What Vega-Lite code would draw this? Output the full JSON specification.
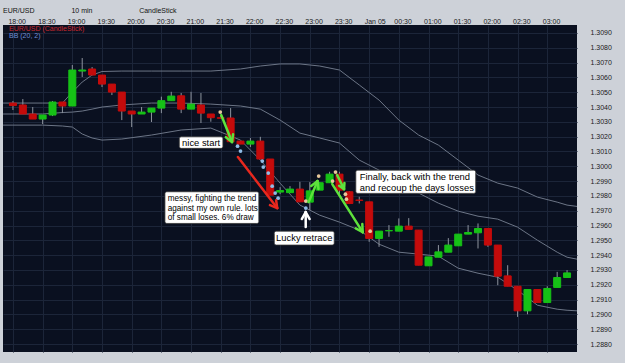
{
  "$schema": "https://vega.github.io/schema/vega-lite/v6.json",
  "width": 574,
  "height": 327,
  "autosize": {"type": "none"},
  "padding": {"left": 3, "top": 25, "right": 48, "bottom": 11},
  "background": "#cdd1d8",
  "title": {
    "text": "EUR/USD\u00a0\u00a0\u00a0\u00a0\u00a0\u00a0\u00a0\u00a0\u00a0\u00a0\u00a0\u00a0\u00a0\u00a0\u00a0\u00a0\u00a0\u00a0\u00a010 min\u00a0\u00a0\u00a0\u00a0\u00a0\u00a0\u00a0\u00a0\u00a0\u00a0\u00a0\u00a0\u00a0\u00a0\u00a0\u00a0\u00a0\u00a0\u00a0\u00a0\u00a0\u00a0\u00a0\u00a0CandleStick",
    "anchor": "start",
    "frame": "group",
    "fontSize": 7,
    "font": "Liberation Sans",
    "fontWeight": "normal",
    "color": "#111111",
    "offset": 3
  },
  "datasets": {
    "candles": [
      {"t": "2012-01-04T18:00:00Z", "o": 1.30427, "h": 1.30441, "l": 1.30380, "c": 1.30410},
      {"t": "2012-01-04T18:10:00Z", "o": 1.30414, "h": 1.30454, "l": 1.30353, "c": 1.30353},
      {"t": "2012-01-04T18:20:00Z", "o": 1.30353, "h": 1.30400, "l": 1.30319, "c": 1.30319},
      {"t": "2012-01-04T18:30:00Z", "o": 1.30319, "h": 1.30346, "l": 1.30285, "c": 1.30346},
      {"t": "2012-01-04T18:40:00Z", "o": 1.30346, "h": 1.30441, "l": 1.30339, "c": 1.30434},
      {"t": "2012-01-04T18:50:00Z", "o": 1.30434, "h": 1.30434, "l": 1.30359, "c": 1.30407},
      {"t": "2012-01-04T19:00:00Z", "o": 1.30407, "h": 1.30684, "l": 1.30407, "c": 1.30650},
      {"t": "2012-01-04T19:10:00Z", "o": 1.30643, "h": 1.30731, "l": 1.30603, "c": 1.30650},
      {"t": "2012-01-04T19:20:00Z", "o": 1.30657, "h": 1.30670, "l": 1.30616, "c": 1.30616},
      {"t": "2012-01-04T19:30:00Z", "o": 1.30616, "h": 1.30616, "l": 1.30535, "c": 1.30555},
      {"t": "2012-01-04T19:40:00Z", "o": 1.30555, "h": 1.30555, "l": 1.30481, "c": 1.30501},
      {"t": "2012-01-04T19:50:00Z", "o": 1.30501, "h": 1.30501, "l": 1.30312, "c": 1.30373},
      {"t": "2012-01-04T20:00:00Z", "o": 1.30373, "h": 1.30373, "l": 1.30265, "c": 1.30353},
      {"t": "2012-01-04T20:10:00Z", "o": 1.30353, "h": 1.30400, "l": 1.30353, "c": 1.30366},
      {"t": "2012-01-04T20:20:00Z", "o": 1.30366, "h": 1.30393, "l": 1.30299, "c": 1.30393},
      {"t": "2012-01-04T20:30:00Z", "o": 1.30393, "h": 1.30470, "l": 1.30359, "c": 1.30443},
      {"t": "2012-01-04T20:40:00Z", "o": 1.30443, "h": 1.30503, "l": 1.30443, "c": 1.30474},
      {"t": "2012-01-04T20:50:00Z", "o": 1.30476, "h": 1.30495, "l": 1.30359, "c": 1.30386},
      {"t": "2012-01-04T21:00:00Z", "o": 1.30386, "h": 1.30503, "l": 1.30386, "c": 1.30420},
      {"t": "2012-01-04T21:10:00Z", "o": 1.30414, "h": 1.30495, "l": 1.30292, "c": 1.30359},
      {"t": "2012-01-04T21:20:00Z", "o": 1.30353, "h": 1.30353, "l": 1.30301, "c": 1.30328},
      {"t": "2012-01-04T21:30:00Z", "o": 1.30328, "h": 1.30339, "l": 1.30322, "c": 1.30324},
      {"t": "2012-01-04T21:40:00Z", "o": 1.30326, "h": 1.30393, "l": 1.30166, "c": 1.30166},
      {"t": "2012-01-04T21:50:00Z", "o": 1.30170, "h": 1.30170, "l": 1.30150, "c": 1.30150},
      {"t": "2012-01-04T22:00:00Z", "o": 1.30150, "h": 1.30191, "l": 1.30130, "c": 1.30170},
      {"t": "2012-01-04T22:10:00Z", "o": 1.30170, "h": 1.30199, "l": 1.30049, "c": 1.30049},
      {"t": "2012-01-04T22:20:00Z", "o": 1.30049, "h": 1.30049, "l": 1.29805, "c": 1.29805},
      {"t": "2012-01-04T22:30:00Z", "o": 1.29826, "h": 1.29859, "l": 1.29812, "c": 1.29836},
      {"t": "2012-01-04T22:40:00Z", "o": 1.29822, "h": 1.29866, "l": 1.29819, "c": 1.29846},
      {"t": "2012-01-04T22:50:00Z", "o": 1.29846, "h": 1.29895, "l": 1.29758, "c": 1.29760},
      {"t": "2012-01-04T23:00:00Z", "o": 1.29758, "h": 1.29893, "l": 1.29704, "c": 1.29834},
      {"t": "2012-01-04T23:10:00Z", "o": 1.29839, "h": 1.29893, "l": 1.29839, "c": 1.29889},
      {"t": "2012-01-04T23:20:00Z", "o": 1.29889, "h": 1.29963, "l": 1.29889, "c": 1.29947},
      {"t": "2012-01-04T23:30:00Z", "o": 1.29947, "h": 1.29963, "l": 1.29805, "c": 1.29839},
      {"t": "2012-01-04T23:40:00Z", "o": 1.29828, "h": 1.29832, "l": 1.29745, "c": 1.29749},
      {"t": "2012-01-04T23:50:00Z", "o": 1.29772, "h": 1.29794, "l": 1.29749, "c": 1.29770},
      {"t": "2012-01-05T00:00:00Z", "o": 1.29760, "h": 1.29760, "l": 1.29490, "c": 1.29513},
      {"t": "2012-01-05T00:10:00Z", "o": 1.29513, "h": 1.29562, "l": 1.29456, "c": 1.29562},
      {"t": "2012-01-05T00:20:00Z", "o": 1.29564, "h": 1.29603, "l": 1.29524, "c": 1.29566},
      {"t": "2012-01-05T00:30:00Z", "o": 1.29562, "h": 1.29648, "l": 1.29562, "c": 1.29596},
      {"t": "2012-01-05T00:40:00Z", "o": 1.29596, "h": 1.29650, "l": 1.29574, "c": 1.29574},
      {"t": "2012-01-05T00:50:00Z", "o": 1.29569, "h": 1.29569, "l": 1.29332, "c": 1.29332},
      {"t": "2012-01-05T01:00:00Z", "o": 1.29328, "h": 1.29388, "l": 1.29328, "c": 1.29388},
      {"t": "2012-01-05T01:10:00Z", "o": 1.29386, "h": 1.29468, "l": 1.29386, "c": 1.29422},
      {"t": "2012-01-05T01:20:00Z", "o": 1.29420, "h": 1.29515, "l": 1.29420, "c": 1.29468},
      {"t": "2012-01-05T01:30:00Z", "o": 1.29463, "h": 1.29542, "l": 1.29463, "c": 1.29542},
      {"t": "2012-01-05T01:40:00Z", "o": 1.29542, "h": 1.29603, "l": 1.29542, "c": 1.29553},
      {"t": "2012-01-05T01:50:00Z", "o": 1.29551, "h": 1.29614, "l": 1.29445, "c": 1.29580},
      {"t": "2012-01-05T02:00:00Z", "o": 1.29580, "h": 1.29580, "l": 1.29456, "c": 1.29468},
      {"t": "2012-01-05T02:10:00Z", "o": 1.29468, "h": 1.29468, "l": 1.29197, "c": 1.29258},
      {"t": "2012-01-05T02:20:00Z", "o": 1.29260, "h": 1.29332, "l": 1.29190, "c": 1.29190},
      {"t": "2012-01-05T02:30:00Z", "o": 1.29190, "h": 1.29190, "l": 1.28983, "c": 1.29024},
      {"t": "2012-01-05T02:40:00Z", "o": 1.29024, "h": 1.29168, "l": 1.29001, "c": 1.29168},
      {"t": "2012-01-05T02:50:00Z", "o": 1.29168, "h": 1.29168, "l": 1.29080, "c": 1.29080},
      {"t": "2012-01-05T03:00:00Z", "o": 1.29080, "h": 1.29190, "l": 1.29080, "c": 1.29175},
      {"t": "2012-01-05T03:10:00Z", "o": 1.29182, "h": 1.29287, "l": 1.29182, "c": 1.29249},
      {"t": "2012-01-05T03:20:00Z", "o": 1.29249, "h": 1.29299, "l": 1.29249, "c": 1.29280}
    ],
    "bands": [
      {"t": "2012-01-04T17:50:00Z", "u": 1.30427, "m": 1.30353, "lo": 1.30278},
      {"t": "2012-01-04T18:00:00Z", "u": 1.30427, "m": 1.30353, "lo": 1.30278},
      {"t": "2012-01-04T18:30:00Z", "u": 1.30427, "m": 1.30353, "lo": 1.30278},
      {"t": "2012-01-04T18:50:00Z", "u": 1.30427, "m": 1.30363, "lo": 1.30272},
      {"t": "2012-01-04T19:00:00Z", "u": 1.30501, "m": 1.30366, "lo": 1.30265},
      {"t": "2012-01-04T19:10:00Z", "u": 1.30569, "m": 1.30373, "lo": 1.30218},
      {"t": "2012-01-04T19:20:00Z", "u": 1.30616, "m": 1.30386, "lo": 1.30191},
      {"t": "2012-01-04T19:30:00Z", "u": 1.30640, "m": 1.30400, "lo": 1.30177},
      {"t": "2012-01-04T19:50:00Z", "u": 1.30643, "m": 1.30414, "lo": 1.30184},
      {"t": "2012-01-04T20:20:00Z", "u": 1.30643, "m": 1.30427, "lo": 1.30211},
      {"t": "2012-01-04T20:50:00Z", "u": 1.30643, "m": 1.30427, "lo": 1.30245},
      {"t": "2012-01-04T21:20:00Z", "u": 1.30643, "m": 1.30420, "lo": 1.30258},
      {"t": "2012-01-04T21:50:00Z", "u": 1.30657, "m": 1.30407, "lo": 1.30177},
      {"t": "2012-01-04T22:10:00Z", "u": 1.30677, "m": 1.30386, "lo": 1.30042},
      {"t": "2012-01-04T22:30:00Z", "u": 1.30691, "m": 1.30312, "lo": 1.29886},
      {"t": "2012-01-04T22:50:00Z", "u": 1.30691, "m": 1.30224, "lo": 1.29738},
      {"t": "2012-01-04T23:10:00Z", "u": 1.30677, "m": 1.30191, "lo": 1.29670},
      {"t": "2012-01-04T23:30:00Z", "u": 1.30650, "m": 1.30157, "lo": 1.29623},
      {"t": "2012-01-04T23:50:00Z", "u": 1.30549, "m": 1.30042, "lo": 1.29569},
      {"t": "2012-01-05T00:10:00Z", "u": 1.30447, "m": 1.29974, "lo": 1.29474},
      {"t": "2012-01-05T00:30:00Z", "u": 1.30312, "m": 1.29900, "lo": 1.29420},
      {"t": "2012-01-05T00:50:00Z", "u": 1.30211, "m": 1.29819, "lo": 1.29407},
      {"t": "2012-01-05T01:10:00Z", "u": 1.30143, "m": 1.29751, "lo": 1.29393},
      {"t": "2012-01-05T01:30:00Z", "u": 1.30042, "m": 1.29697, "lo": 1.29312},
      {"t": "2012-01-05T01:50:00Z", "u": 1.29941, "m": 1.29663, "lo": 1.29278},
      {"t": "2012-01-05T02:10:00Z", "u": 1.29886, "m": 1.29643, "lo": 1.29251},
      {"t": "2012-01-05T02:30:00Z", "u": 1.29853, "m": 1.29589, "lo": 1.29163},
      {"t": "2012-01-05T02:50:00Z", "u": 1.29792, "m": 1.29501, "lo": 1.29062},
      {"t": "2012-01-05T03:10:00Z", "u": 1.29758, "m": 1.29420, "lo": 1.29035},
      {"t": "2012-01-05T03:20:00Z", "u": 1.29738, "m": 1.29386, "lo": 1.29028},
      {"t": "2012-01-05T03:40:00Z", "u": 1.29720, "m": 1.29360, "lo": 1.29020}
    ],
    "arrows": [
      {"t": "2012-01-04T21:30:29Z", "p": 1.303459, "t2": "2012-01-04T21:41:25Z", "p2": 1.301635, "col": "#5ee23c"},
      {"t": "2012-01-04T21:42:30Z", "p": 1.302169, "t2": "2012-01-04T21:41:25Z", "p2": 1.301635, "col": "#5ee23c"},
      {"t": "2012-01-04T21:35:09Z", "p": 1.301966, "t2": "2012-01-04T21:41:25Z", "p2": 1.301635, "col": "#5ee23c"},
      {"t": "2012-01-04T21:47:22Z", "p": 1.300622, "t2": "2012-01-04T22:27:05Z", "p2": 1.297176, "col": "#e8281e"},
      {"t": "2012-01-04T22:26:00Z", "p": 1.297709, "t2": "2012-01-04T22:27:05Z", "p2": 1.297176, "col": "#e8281e"},
      {"t": "2012-01-04T22:19:44Z", "p": 1.297378, "t2": "2012-01-04T22:27:05Z", "p2": 1.297176, "col": "#e8281e"},
      {"t": "2012-01-04T22:55:53Z", "p": 1.295892, "t2": "2012-01-04T22:55:53Z", "p2": 1.296905, "col": "#ffffff"},
      {"t": "2012-01-04T22:51:55Z", "p": 1.296439, "t2": "2012-01-04T22:55:53Z", "p2": 1.296905, "col": "#ffffff"},
      {"t": "2012-01-04T22:59:52Z", "p": 1.296439, "t2": "2012-01-04T22:55:53Z", "p2": 1.296905, "col": "#ffffff"},
      {"t": "2012-01-04T22:58:52Z", "p": 1.297581, "t2": "2012-01-04T23:07:48Z", "p2": 1.299000, "col": "#5ee23c"},
      {"t": "2012-01-04T23:01:27Z", "p": 1.298676, "t2": "2012-01-04T23:07:48Z", "p2": 1.299000, "col": "#5ee23c"},
      {"t": "2012-01-04T23:08:48Z", "p": 1.298466, "t2": "2012-01-04T23:07:48Z", "p2": 1.299000, "col": "#5ee23c"},
      {"t": "2012-01-04T23:22:42Z", "p": 1.298797, "t2": "2012-01-04T23:53:29Z", "p2": 1.295554, "col": "#5ee23c"},
      {"t": "2012-01-04T23:53:05Z", "p": 1.296095, "t2": "2012-01-04T23:53:29Z", "p2": 1.295554, "col": "#5ee23c"},
      {"t": "2012-01-04T23:46:26Z", "p": 1.295804, "t2": "2012-01-04T23:53:29Z", "p2": 1.295554, "col": "#5ee23c"},
      {"t": "2012-01-04T23:27:40Z", "p": 1.299405, "t2": "2012-01-04T23:34:37Z", "p2": 1.298459, "col": "#5ee23c"},
      {"t": "2012-01-04T23:35:01Z", "p": 1.298865, "t2": "2012-01-04T23:34:37Z", "p2": 1.298459, "col": "#5ee23c"},
      {"t": "2012-01-04T23:29:39Z", "p": 1.298682, "t2": "2012-01-04T23:34:37Z", "p2": 1.298459, "col": "#5ee23c"}
    ],
    "markers": [
      {"t": "2012-01-04T21:47:00Z", "p": 1.30136, "kind": "fill"},
      {"t": "2012-01-04T21:50:00Z", "p": 1.30103, "kind": "fill"},
      {"t": "2012-01-04T22:12:00Z", "p": 1.30035, "kind": "fill"},
      {"t": "2012-01-04T22:13:00Z", "p": 1.29995, "kind": "fill"},
      {"t": "2012-01-04T22:18:00Z", "p": 1.29954, "kind": "fill"},
      {"t": "2012-01-04T22:22:00Z", "p": 1.29866, "kind": "fill"},
      {"t": "2012-01-04T22:25:00Z", "p": 1.29819, "kind": "fill"},
      {"t": "2012-01-04T22:28:00Z", "p": 1.29785, "kind": "fill"},
      {"t": "2012-01-04T22:56:00Z", "p": 1.29718, "kind": "fill"},
      {"t": "2012-01-04T21:29:30Z", "p": 1.30366, "kind": "order"},
      {"t": "2012-01-04T22:56:00Z", "p": 1.29765, "kind": "order"},
      {"t": "2012-01-04T23:09:00Z", "p": 1.29934, "kind": "order"},
      {"t": "2012-01-04T23:26:00Z", "p": 1.29961, "kind": "order"},
      {"t": "2012-01-04T23:23:00Z", "p": 1.29900, "kind": "order"},
      {"t": "2012-01-04T23:36:00Z", "p": 1.29812, "kind": "order"},
      {"t": "2012-01-04T23:37:00Z", "p": 1.29778, "kind": "order"},
      {"t": "2012-01-05T00:01:00Z", "p": 1.29562, "kind": "order"}
    ],
    "boxes": [
      {"t": "2012-01-04T20:48:06Z", "t2": "2012-01-04T21:32:12Z", "p": 1.30199, "p2": 1.30121},
      {"t": "2012-01-04T20:33:36Z", "t2": "2012-01-04T22:08:30Z", "p": 1.29828, "p2": 1.29614},
      {"t": "2012-01-04T22:24:06Z", "t2": "2012-01-04T23:24:42Z", "p": 1.29562, "p2": 1.29468},
      {"t": "2012-01-04T23:46:30Z", "t2": "2012-01-05T01:47:42Z", "p": 1.29974, "p2": 1.29817}
    ],
    "notes": [
      {"t": "2012-01-04T21:10:09Z", "p": 1.30160, "note": "start", "label": "nice start"},
      {"t": "2012-01-04T20:36:24Z", "p": 1.297784, "note": "messy", "label": "messy, fighting the trend"},
      {"t": "2012-01-04T20:36:24Z", "p": 1.297142, "note": "messy", "label": "against my own rule. lots"},
      {"t": "2012-01-04T20:36:24Z", "p": 1.296500, "note": "messy", "label": "of small loses. 6% draw"},
      {"t": "2012-01-04T22:54:24Z", "p": 1.29515, "note": "lucky", "label": "Lucky retrace"},
      {"t": "2012-01-04T23:50:30Z", "p": 1.299304, "note": "finally", "label": "Finally, back with the trend"},
      {"t": "2012-01-04T23:50:30Z", "p": 1.298561, "note": "finally", "label": "and recoup the days losses"}
    ],
    "studies": [
      {"t": "2012-01-04T17:56:00Z", "p": 1.30927, "label": "EUR/USD (CandleStick)", "col": "#c8282e"},
      {"t": "2012-01-04T17:56:00Z", "p": 1.30880, "label": "BB (20, 2)", "col": "#6f8fd6"}
    ]
  },
  "layer": [
    {
      "data": {"name": "bands"},
      "mark": {"type": "line", "color": "#6c7586", "strokeWidth": 1, "clip": true},
      "encoding": {
        "x": {
          "field": "t",
          "type": "temporal",
          "scale": {"type": "utc", "domain": [1325699700000, 1325733900000]},
          "axis": {
            "orient": "top",
            "title": null,
            "values": [1325700000000, 1325701800000, 1325703600000, 1325705400000, 1325707200000, 1325709000000, 1325710800000, 1325712600000, 1325714400000, 1325716200000, 1325718000000, 1325719800000, 1325721600000, 1325723400000, 1325725200000, 1325727000000, 1325728800000, 1325730600000, 1325732400000],
            "tickCount": 60,
            "format": "%H:%M",
            "labelExpr": "datum.label == '00:00' ? 'Jan 05' : datum.label",
            "labelAlign": "left",
            "labelOffset": -5,
            "labelPadding": 1,
            "tickSize": 0,
            "domain": false,
            "grid": true,
            "gridColor": "#1c2539",
            "labelFont": "Liberation Sans",
            "labelFontSize": 7,
            "labelColor": "#1a1a1a",
            "labelOverlap": false
          }
        },
        "y": {
          "field": "u",
          "type": "quantitative",
          "scale": {"domain": [1.28746, 1.30954], "nice": false, "zero": false},
          "axis": {
            "orient": "right",
            "title": null,
            "values": [1.288, 1.289, 1.29, 1.291, 1.292, 1.293, 1.294, 1.295, 1.296, 1.297, 1.298, 1.299, 1.3, 1.301, 1.302, 1.303, 1.304, 1.305, 1.306, 1.307, 1.308, 1.309],
            "tickCount": 60,
            "format": ".4f",
            "tickSize": 0,
            "labelPadding": 13,
            "labelOverlap": false,
            "domain": false,
            "grid": true,
            "gridColor": "#1c2539",
            "labelFont": "Liberation Sans",
            "labelFontSize": 7,
            "labelColor": "#1a1a1a"
          }
        }
      }
    },
    {
      "data": {"name": "bands"},
      "mark": {"type": "line", "color": "#6c7586", "strokeWidth": 1, "clip": true},
      "encoding": {
        "x": {"field": "t", "type": "temporal"},
        "y": {"field": "m", "type": "quantitative"}
      }
    },
    {
      "data": {"name": "bands"},
      "mark": {"type": "line", "color": "#6c7586", "strokeWidth": 1, "clip": true},
      "encoding": {
        "x": {"field": "t", "type": "temporal"},
        "y": {"field": "lo", "type": "quantitative"}
      }
    },
    {
      "data": {"name": "candles"},
      "mark": {"type": "rule", "color": "#8e949e", "strokeWidth": 1},
      "encoding": {
        "x": {"field": "t", "type": "temporal"},
        "y": {"field": "l", "type": "quantitative"},
        "y2": {"field": "h"}
      }
    },
    {
      "data": {"name": "candles"},
      "mark": {"type": "bar", "size": 7, "strokeWidth": 1},
      "encoding": {
        "x": {"field": "t", "type": "temporal"},
        "y": {"field": "o", "type": "quantitative"},
        "y2": {"field": "c"},
        "fill": {"condition": {"test": "datum.c >= datum.o", "value": "#16c116"}, "value": "#c40b0b"},
        "stroke": {"condition": {"test": "datum.c >= datum.o", "value": "#16c116"}, "value": "#c40b0b"}
      }
    },
    {
      "data": {"name": "markers"},
      "mark": {"type": "circle", "size": 14, "opacity": 1},
      "encoding": {
        "x": {"field": "t", "type": "temporal"},
        "y": {"field": "p", "type": "quantitative"},
        "fill": {"condition": {"test": "datum.kind == 'fill'", "value": "#8fbce6"}, "value": "#e6c79c"}
      }
    },
    {
      "data": {"name": "arrows"},
      "mark": {"type": "rule", "strokeWidth": 2.5, "strokeCap": "round"},
      "encoding": {
        "x": {"field": "t", "type": "temporal"},
        "y": {"field": "p", "type": "quantitative"},
        "x2": {"field": "t2"},
        "y2": {"field": "p2"},
        "stroke": {"field": "col", "type": "nominal", "scale": null}
      }
    },
    {
      "data": {"name": "boxes"},
      "mark": {"type": "rect", "fill": "#ffffff", "stroke": "#333333", "strokeWidth": 0.8, "cornerRadius": 2},
      "encoding": {
        "x": {"field": "t", "type": "temporal"},
        "y": {"field": "p", "type": "quantitative"},
        "x2": {"field": "t2"},
        "y2": {"field": "p2"}
      }
    },
    {
      "data": {"name": "notes"},
      "transform": [{"filter": "datum.note == 'start' || datum.note == 'lucky'"}],
      "mark": {"type": "text", "font": "Liberation Sans", "fontSize": 9.4, "color": "#000000", "align": "center", "baseline": "middle"},
      "encoding": {
        "x": {"field": "t", "type": "temporal"},
        "y": {"field": "p", "type": "quantitative"},
        "text": {"field": "label", "type": "nominal"}
      }
    },
    {
      "data": {"name": "notes"},
      "transform": [{"filter": "datum.note == 'messy'"}],
      "mark": {"type": "text", "font": "Liberation Sans", "fontSize": 8.2, "color": "#000000", "align": "left", "baseline": "middle"},
      "encoding": {
        "x": {"field": "t", "type": "temporal"},
        "y": {"field": "p", "type": "quantitative"},
        "text": {"field": "label", "type": "nominal"}
      }
    },
    {
      "data": {"name": "notes"},
      "transform": [{"filter": "datum.note == 'finally'"}],
      "mark": {"type": "text", "font": "Liberation Sans", "fontSize": 9.4, "color": "#000000", "align": "left", "baseline": "middle"},
      "encoding": {
        "x": {"field": "t", "type": "temporal"},
        "y": {"field": "p", "type": "quantitative"},
        "text": {"field": "label", "type": "nominal"}
      }
    },
    {
      "data": {"name": "studies"},
      "mark": {"type": "text", "font": "Liberation Sans", "fontSize": 7, "align": "left", "baseline": "middle"},
      "encoding": {
        "x": {"field": "t", "type": "temporal"},
        "y": {"field": "p", "type": "quantitative"},
        "text": {"field": "label", "type": "nominal"},
        "fill": {"field": "col", "type": "nominal", "scale": null}
      }
    }
  ],
  "config": {
    "view": {"fill": "#0a1020", "stroke": null}
  }
}
